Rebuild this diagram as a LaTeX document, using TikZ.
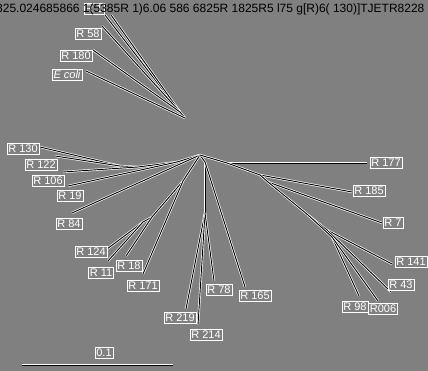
\documentclass[tikz,border=0pt]{standalone}
\usepackage{fontspec}
\setmainfont{Liberation Sans}
\definecolor{bg}{RGB}{128,128,128}
\begin{document}
\begin{tikzpicture}[x=1pt, y=-1pt,
    branch/.style={draw=white, double=black, double distance=0.9pt, line width=0.7pt},
    taxon/.style={draw=white, text=white, line width=0.6pt, inner sep=1.5pt,
                  font=\fontsize{11}{11}\selectfont}]

        % Background
        \fill[bg] (0,0) rectangle (428,371);
        \useasboundingbox (0,0) rectangle (428,371);

        % Detached cluster
        \coordinate (t1) at (180,112);
        \coordinate (t0) at (185,118);
        \coordinate (tR1a) at (105,15);
        \coordinate (tR1b) at (111,15);
        \coordinate (tR58) at (102,26);
        \coordinate (tR180) at (93,50);
        \coordinate (tEcoli) at (86,71);

        % Internal nodes
        \coordinate (hub) at (200,155);
        \coordinate (a1) at (120,166);
        \coordinate (a2) at (138,167);
        \coordinate (a3) at (177,162);
        \coordinate (d1) at (183,181);
        \coordinate (d2) at (152,217);
        \coordinate (d3) at (143,222);
        \coordinate (e0) at (205,162);
        \coordinate (e1) at (205,213);
        \coordinate (c1) at (227,163);
        \coordinate (c2) at (260,175);
        \coordinate (c3) at (268,182);
        \coordinate (c4) at (308,215);
        \coordinate (c5) at (327,230);
        \coordinate (c6) at (332,237);

        % Leaf tips
        \coordinate (tR130) at (40,147);
        \coordinate (tR122) at (55,156);
        \coordinate (tR106) at (63,172);
        \coordinate (tR19) at (68,186);
        \coordinate (tR84) at (72,213);
        \coordinate (tR124) at (107,249);
        \coordinate (tR11) at (108,261);
        \coordinate (tR18) at (126,256);
        \coordinate (tR171) at (143,274);
        \coordinate (tR219) at (186,309);
        \coordinate (tR214) at (198,325);
        \coordinate (tR78) at (214,281);
        \coordinate (tR165) at (245,287);
        \coordinate (tR177) at (367,163);
        \coordinate (tR185) at (352,192);
        \coordinate (tR7) at (382,223);
        \coordinate (tR141) at (392,264);
        \coordinate (tR43) at (391,292);
        \coordinate (tR98) at (359,296);
        \coordinate (tR006) at (378,301);

        % Branches
        \foreach \a/\b in {t0/t1, t1/tR1a, t1/tR1b, t1/tR58, t1/tR180, t0/tEcoli,
                           hub/a3, a3/a2, a2/a1, a1/tR130, a1/tR122, a2/tR106, a3/tR19, hub/tR84,
                           hub/d1, d1/d2, d2/d3, d3/tR124, d3/tR11, d2/tR18, d1/tR171,
                           hub/e0, e0/e1, e1/tR219, e1/tR214, e1/tR78, e0/tR165,
                           hub/c1, c1/tR177, c1/c2, c2/tR185, c2/c3, c3/tR7, c3/c4,
                           c4/c5, c5/tR141, c5/tR43, c4/c6, c6/tR98, c6/tR006}
            \draw[branch] (\a) -- (\b);

        % Taxon labels
        \node[taxon] (R1) at (94,9) {R 1};
        \node[taxon] (R58) at (88,34) {R 58};
        \node[taxon] (R180) at (76,56) {R 180};
        \node[taxon, font=\fontsize{11}{11}\selectfont\itshape] (Ecoli) at (67,75) {E coli};
        \node[taxon] (R130) at (23,149) {R 130};
        \node[taxon] (R122) at (41,165) {R 122};
        \node[taxon] (R106) at (48,181) {R 106};
        \node[taxon] (R19) at (70,196) {R 19};
        \node[taxon] (R84) at (69,224) {R 84};
        \node[taxon] (R124) at (91,252) {R 124};
        \node[taxon] (R11) at (101,273) {R 11};
        \node[taxon] (R18) at (129,266) {R 18};
        \node[taxon] (R171) at (143,286) {R 171};
        \node[taxon] (R219) at (180,318) {R 219};
        \node[taxon] (R214) at (206,335) {R 214};
        \node[taxon] (R78) at (219,290) {R 78};
        \node[taxon] (R165) at (255,296) {R 165};
        \node[taxon] (R177) at (386,163) {R 177};
        \node[taxon] (R185) at (369,191) {R 185};
        \node[taxon] (R7) at (393,223) {R 7};
        \node[taxon] (R141) at (411,262) {R 141};
        \node[taxon] (R43) at (401,285) {R 43};
        \node[taxon] (R98) at (355,307) {R 98};
        \node[taxon] (R006) at (383,309) {R006};

        % Scale bar
        \coordinate (s0) at (22,365);
        \coordinate (s1) at (173,365);
        \draw[branch] (s0) -- (s1);
        \node[taxon] (scale) at (104,353) {0.1};

        % Stray text line at the top
        \begin{scope}
            \clip (0,0) rectangle (428,20);
            \node[anchor=west, text=black, inner sep=0pt, font=\fontsize{12}{12}\selectfont]
                (junk) at (-4,9) {825.024685866 1(5385R 1)6.06 586 6825R 1825R5 l75 g[R)6( 130)]TJETR8228};
        \end{scope}

    \end{tikzpicture}
\end{document}
